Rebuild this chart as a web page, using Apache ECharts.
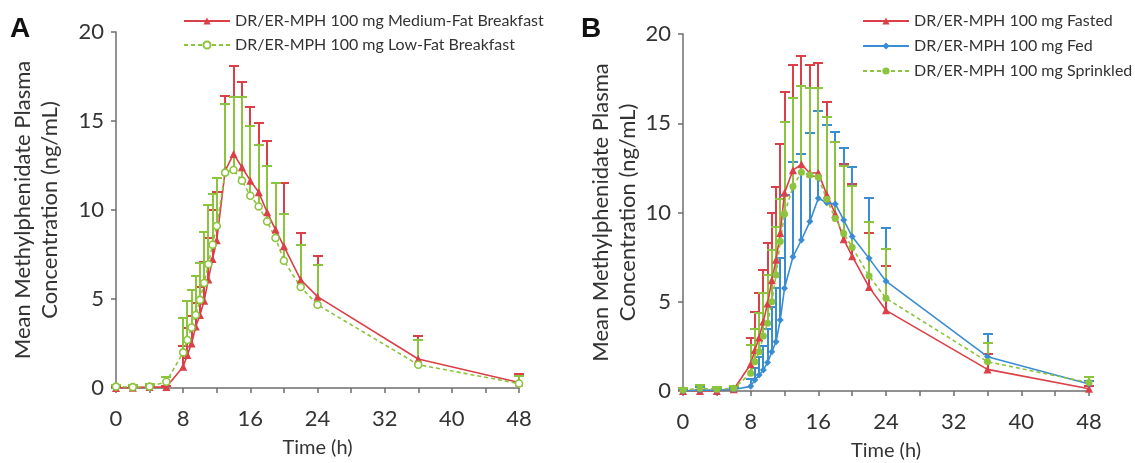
<!DOCTYPE html>
<html>
<head>
<meta charset="utf-8">
<script src="https://cdn.jsdelivr.net/npm/echarts@6/dist/echarts.min.js"></script>
<style>
  html, body { margin: 0; padding: 0; background: #fff; }
  #chart { width: 1135px; height: 463px; }
</style>
</head>
<body>
<div id="chart"></div>
<script>
// Sampling times (h), shared by both panels
const times = [0, 2, 4, 6, 8, 8.5, 9, 9.5, 10, 10.5, 11, 11.5, 12, 13, 14, 15, 16, 17, 18, 19, 20, 22, 24, 36, 48];

// Axis tick labels
const xTickLabels = [0, 8, 16, 24, 32, 40, 48];
const yTickLabels = [0, 5, 10, 15, 20];

// Panel A: medium-fat vs low-fat breakfast (mean and mean + SD, ng/mL)
const medFatMean  = [0, 0.02, 0.05, 0.05, 1.2, 1.85, 2.5, 3.45, 4.1, 4.9, 6.1, 7.25, 8.3, 12.2, 13.15, 12.4, 11.65, 11.0, 9.87, 8.9, 7.96, 6.08, 5.13, 1.63, 0.31];
const medFatUpper = [0.05, 0.1, 0.1, 0.1, 2.34, 3.37, 4.06, 4.8, 5.7, 7.08, 8.4, 10.0, 11.0, 16.42, 18.07, 17.17, 15.76, 14.89, 13.9, 11.5, 11.5, 8.7, 7.4, 2.9, 0.8];
const lowFatMean  = [0.08, 0.05, 0.08, 0.35, 2.0, 2.7, 3.4, 4.1, 4.95, 5.9, 6.95, 8.05, 9.1, 12.1, 12.25, 11.65, 10.8, 10.2, 9.35, 8.43, 7.15, 5.67, 4.68, 1.31, 0.25];
const lowFatUpper = [0.15, 0.15, 0.2, 0.6, 3.93, 4.87, 5.5, 6.3, 7.0, 8.75, 10.3, 10.9, 11.8, 15.96, 16.33, 16.33, 14.7, 13.63, 12.45, 11.5, 9.8, 8.05, 6.93, 2.67, 0.65];

// Panel B: fasted, fed and sprinkled administration
const fastedMean  = [0, 0, 0, 0.1, 1.5, 2.3, 3.0, 3.9, 4.9, 6.2, 7.35, 8.85, 11.1, 12.37, 12.7, 12.2, 12.23, 11.0, 9.92, 8.5, 7.55, 5.82, 4.52, 1.21, 0.13];
const fastedUpper = [0.05, 0.05, 0.05, 0.2, 2.95, 4.44, 5.47, 6.78, 8.31, 9.96, 11.45, 13.84, 16.77, 18.26, 18.77, 18.26, 18.36, 16.2, 13.97, 12.72, 11.6, 8.83, 6.98, 2.05, 0.3];
const fedMean     = [0, 0.05, 0.05, 0.08, 0.26, 0.62, 0.9, 1.18, 1.59, 2.2, 2.76, 3.98, 5.75, 7.52, 8.46, 9.49, 10.8, 10.55, 10.48, 9.58, 8.65, 7.43, 6.15, 1.92, 0.39];
const fedUpper    = [0.1, 0.2, 0.1, 0.15, 0.7, 1.3, 1.9, 2.5, 3.5, 4.7, 5.75, 7.45, 11.0, 12.85, 13.3, 14.43, 15.7, 14.9, 14.53, 13.6, 12.53, 10.8, 9.11, 3.19, 0.55];
const sprinkMean  = [0.05, 0.15, 0.1, 0.15, 0.99, 1.64, 2.2, 3.08, 3.79, 5.0, 6.5, 8.37, 9.92, 11.45, 12.26, 12.1, 11.97, 10.74, 9.67, 8.83, 8.05, 6.44, 5.19, 1.64, 0.47];
const sprinkUpper = [0.15, 0.35, 0.2, 0.3, 2.58, 3.46, 4.35, 5.47, 6.5, 7.9, 9.2, 10.74, 15.09, 16.4, 17.1, 16.96, 16.96, 15.37, 13.97, 12.6, 11.5, 9.49, 7.94, 2.71, 0.8];

const nameMedFat = 'DR/ER-MPH 100 mg Medium-Fat Breakfast';
const nameLowFat = 'DR/ER-MPH 100 mg Low-Fat Breakfast';
const nameFasted = 'DR/ER-MPH 100 mg Fasted';
const nameFed    = 'DR/ER-MPH 100 mg Fed';
const nameSprink = 'DR/ER-MPH 100 mg Sprinkled';

const RED = '#db3f47';
const BLUE = '#3a8dd3';
const GREEN = '#8cc43e';
const AXIS = '#6e6e6e';
const TEXT = '#333333';
const FONT = 'Lato';

function pairs(means) {
  return times.map((t, i) => [t, means[i]]);
}

function triples(means, uppers) {
  return times.map((t, i) => [t, means[i], uppers[i]]);
}

// Upper error bar: stem from the mean up to mean + SD, with a short cap.
// Coordinates are snapped to whole pixels so overlapping bars stay crisp.
function errorBars(idx, means, uppers, color) {
  return {
    type: 'custom',
    xAxisIndex: idx,
    yAxisIndex: idx,
    silent: true,
    encode: { x: 0, y: [1, 2] },
    data: triples(means, uppers),
    renderItem: function (params, api) {
      const t = api.value(0);
      const p0 = api.coord([t, api.value(1)]);
      const p1 = api.coord([t, api.value(2)]);
      const x = Math.round(p0[0]);
      const yTop = Math.round(p1[1]);
      const half = 5;
      const style = { stroke: color, lineWidth: 2 };
      return {
        type: 'group',
        children: [
          { type: 'line', shape: { x1: x, y1: p0[1], x2: x, y2: yTop }, style: style },
          { type: 'line', shape: { x1: x - half, y1: yTop, x2: x + half, y2: yTop }, style: style }
        ]
      };
    }
  };
}

function curve(idx, name, means, color, symbol, size, dashed, hollow) {
  return {
    type: 'line',
    name: name,
    xAxisIndex: idx,
    yAxisIndex: idx,
    data: pairs(means),
    symbol: symbol,
    symbolSize: size,
    showSymbol: true,
    lineStyle: { color: color, width: 1.6, type: dashed ? [4, 3] : 'solid' },
    itemStyle: hollow
      ? { color: '#fff', borderColor: color, borderWidth: 1.6 }
      : { color: color, borderWidth: 0 },
    z: 3
  };
}

function xAxis(idx) {
  return {
    type: 'value',
    gridIndex: idx,
    min: 0,
    max: 48,
    interval: 4,
    name: 'Time (h)',
    nameLocation: 'middle',
    nameGap: 50,
    nameTextStyle: { fontFamily: FONT, fontSize: 20, color: TEXT },
    axisLine: { show: true, lineStyle: { color: AXIS, width: 1.5 } },
    axisTick: { show: true, length: 5, lineStyle: { color: AXIS, width: 1.5 } },
    axisLabel: {
      margin: 20,
      fontFamily: FONT,
      fontSize: 22,
      color: TEXT,
      formatter: v => (xTickLabels.includes(v) ? String(v) : '')
    },
    splitLine: { show: false }
  };
}

function yAxis(idx, gap) {
  return {
    type: 'value',
    gridIndex: idx,
    min: 0,
    max: 20,
    interval: 5,
    name: 'Mean Methylphenidate Plasma\nConcentration (ng/mL)',
    nameLocation: 'middle',
    nameGap: gap,
    nameTextStyle: { fontFamily: FONT, fontSize: 22, lineHeight: 27, color: TEXT },
    axisLine: { show: true, lineStyle: { color: AXIS, width: 1.5 } },
    axisTick: { show: true, length: 5, lineStyle: { color: AXIS, width: 1.5 } },
    axisLabel: {
      margin: 12,
      fontFamily: FONT,
      fontSize: 22,
      color: TEXT,
      formatter: v => (yTickLabels.includes(v) ? String(v) : '')
    },
    splitLine: { show: false }
  };
}

const legendBase = {
  orient: 'vertical',
  padding: 0,
  itemWidth: 46,
  itemHeight: 9,
  textStyle: { fontFamily: FONT, fontSize: 16, color: TEXT }
};

const chart = echarts.init(document.getElementById('chart'), null, { renderer: 'canvas' });

chart.setOption({
  animation: false,
  backgroundColor: '#fff',
  grid: [
    { left: 116, top: 32, width: 403, height: 356, outerBoundsMode: 'none', containLabel: false },
    { left: 683, top: 34, width: 406, height: 357, outerBoundsMode: 'none', containLabel: false }
  ],
  xAxis: [xAxis(0), xAxis(1)],
  yAxis: [yAxis(0, 53), yAxis(1, 42)],
  legend: [
    Object.assign({}, legendBase, { left: 183, top: 13, itemGap: 8, data: [nameMedFat, nameLowFat] }),
    Object.assign({}, legendBase, { left: 862, top: 13, itemGap: 9, data: [nameFasted, nameFed, nameSprink] })
  ],
  graphic: [
    { type: 'text', left: 10, top: 15, style: { text: 'A', font: 'bold 28px "Liberation Sans"', fill: '#111' } },
    { type: 'text', left: 581, top: 15, style: { text: 'B', font: 'bold 28px "Liberation Sans"', fill: '#111' } }
  ],
  series: [
    // Panel A
    errorBars(0, medFatMean, medFatUpper, RED),
    errorBars(0, lowFatMean, lowFatUpper, GREEN),
    curve(0, nameMedFat, medFatMean, RED, 'triangle', 8, false, false),
    curve(0, nameLowFat, lowFatMean, GREEN, 'circle', 7, true, true),
    // Panel B
    errorBars(1, fastedMean, fastedUpper, RED),
    errorBars(1, fedMean, fedUpper, BLUE),
    errorBars(1, sprinkMean, sprinkUpper, GREEN),
    curve(1, nameFasted, fastedMean, RED, 'triangle', 8, false, false),
    curve(1, nameFed, fedMean, BLUE, 'diamond', 7, false, false),
    curve(1, nameSprink, sprinkMean, GREEN, 'circle', 7, true, false)
  ]
});
</script>
</body>
</html>
